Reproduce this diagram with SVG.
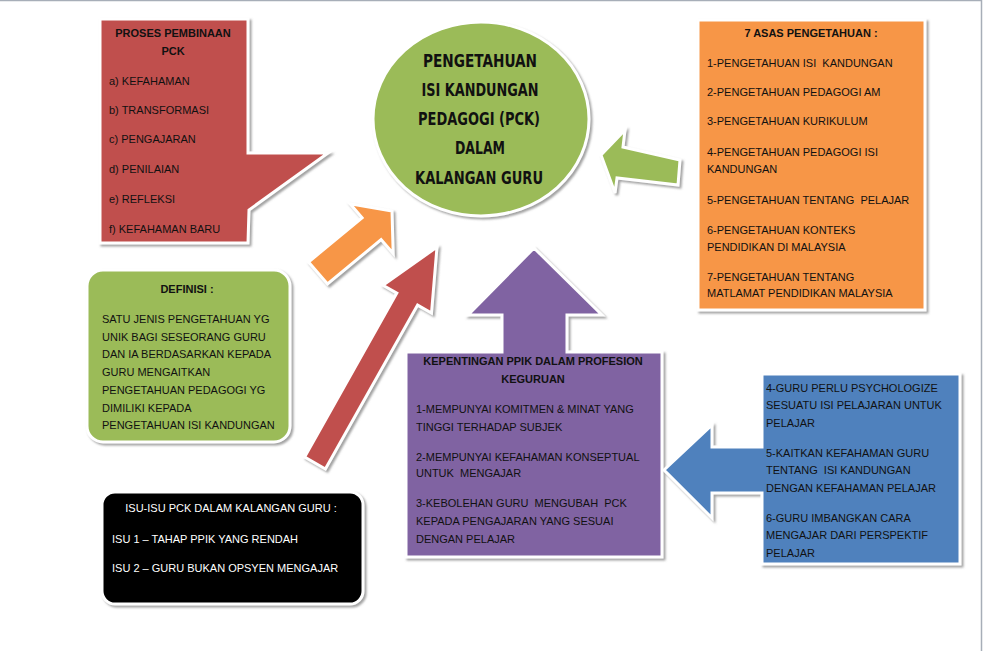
<svg xmlns="http://www.w3.org/2000/svg" width="983" height="651" viewBox="0 0 983 651">
<defs>
<filter id="sh" x="-10%" y="-10%" width="120%" height="120%">
<feDropShadow dx="2" dy="2" stdDeviation="1" flood-color="#8a8a8a" flood-opacity="0.8"/>
</filter>
<style>
.s{stroke:#fff;stroke-width:3;stroke-linejoin:miter;filter:url(#sh)}
.red{fill:#C0504D}.org{fill:#F79646}.grn{fill:#9BBB59}.pur{fill:#8064A2}.blu{fill:#4F81BD}.blk{fill:#000}
text{font-family:"Liberation Sans",Arial,sans-serif;font-size:11px;fill:#111;white-space:pre}
.b{font-weight:bold}
.c{text-anchor:middle}
.w{fill:#fff}
.t{font-family:"DejaVu Sans Condensed","DejaVu Sans",sans-serif;font-weight:bold;font-size:17px;fill:#111;text-anchor:middle}
</style>
</defs>
<rect width="983" height="651" fill="#fff"/>
<path d="M0 0.5H981.5V651" fill="none" stroke="#A7AEB8" stroke-width="1.5"/>

<g id="connectors">
<polygon class="s org" points="308.5,262 362.1,217.8 350,203.8 392,211 393.2,253.6 381.1,239.6 327.5,284"/>
<polygon class="s red" points="304.6,457 396.8,293.1 382.9,285.2 437,247 431.5,313 417.6,305.1 325.4,469"/>
<polygon class="s grn" points="601,155 625,130 623,147 680,160 678,185 617,178 615,193"/>
</g>

<g id="proses">
<polygon class="s red" points="100,19 248,19 248,153 328,153 249,210 248,243 100,243"/>
<text class="b c" x="173" y="37">PROSES PEMBINAAN</text>
<text class="b c" x="173" y="55">PCK</text>
<text x="109" y="85">a) KEFAHAMAN</text>
<text x="109" y="114">b) TRANSFORMASI</text>
<text x="109" y="143">c) PENGAJARAN</text>
<text x="109" y="173">d) PENILAIAN</text>
<text x="109" y="203">e) REFLEKSI</text>
<text x="109" y="233">f) KEFAHAMAN BARU</text>
</g>

<g id="pck">
<ellipse class="s grn" cx="481" cy="119" rx="108" ry="97"/>
<text class="t" x="480" y="67" textLength="114" lengthAdjust="spacingAndGlyphs">PENGETAHUAN</text>
<text class="t" x="480" y="96" textLength="117" lengthAdjust="spacingAndGlyphs">ISI KANDUNGAN</text>
<text class="t" x="479" y="125" textLength="122" lengthAdjust="spacingAndGlyphs">PEDAGOGI (PCK)</text>
<text class="t" x="480" y="154" textLength="50" lengthAdjust="spacingAndGlyphs">DALAM</text>
<text class="t" x="479" y="184" textLength="128" lengthAdjust="spacingAndGlyphs">KALANGAN GURU</text>
</g>

<g id="asas">
<rect class="s org" x="698" y="20" width="227" height="290"/>
<text class="b c" x="811" y="37">7 ASAS PENGETAHUAN :</text>
<text x="707" y="67">1-PENGETAHUAN ISI  KANDUNGAN</text>
<text x="707" y="96">2-PENGETAHUAN PEDAGOGI AM</text>
<text x="707" y="125">3-PENGETAHUAN KURIKULUM</text>
<text x="707" y="156">4-PENGETAHUAN PEDAGOGI ISI</text>
<text x="707" y="173">KANDUNGAN</text>
<text x="707" y="204">5-PENGETAHUAN TENTANG  PELAJAR</text>
<text x="707" y="234">6-PENGETAHUAN KONTEKS</text>
<text x="707" y="251">PENDIDIKAN DI MALAYSIA</text>
<text x="707" y="281">7-PENGETAHUAN TENTANG</text>
<text x="707" y="297">MATLAMAT PENDIDIKAN MALAYSIA</text>
</g>

<g id="definisi">
<rect class="s grn" x="87" y="270" width="203" height="172" rx="16"/>
<text class="b c" x="187" y="293">DEFINISI :</text>
<text x="102" y="323">SATU JENIS PENGETAHUAN YG</text>
<text x="102" y="341">UNIK BAGI SESEORANG GURU</text>
<text x="102" y="358">DAN IA BERDASARKAN KEPADA</text>
<text x="102" y="376">GURU MENGAITKAN</text>
<text x="102" y="394">PENGETAHUAN PEDAGOGI YG</text>
<text x="102" y="412">DIMILIKI KEPADA</text>
<text x="102" y="429">PENGETAHUAN ISI KANDUNGAN</text>
</g>

<g id="isu">
<rect class="s blk" x="102" y="492" width="261" height="112" rx="13"/>
<text class="w c" x="231" y="512">ISU-ISU PCK DALAM KALANGAN GURU :</text>
<text class="w" x="112" y="543">ISU 1 – TAHAP PPIK YANG RENDAH</text>
<text class="w" x="112" y="572">ISU 2 – GURU BUKAN OPSYEN MENGAJAR</text>
</g>

<g id="kepentingan">
<polygon class="s pur" points="534,248 602,315 567,315 567,352 662,352 662,557 406,557 406,352 502,352 502,315 468,315"/>
<text class="b c" x="533" y="365">KEPENTINGAN PPIK DALAM PROFESION</text>
<text class="b c" x="533" y="383">KEGURUAN</text>
<text x="416" y="413">1-MEMPUNYAI KOMITMEN &amp; MINAT YANG</text>
<text x="416" y="431">TINGGI TERHADAP SUBJEK</text>
<text x="416" y="461">2-MEMPUNYAI KEFAHAMAN KONSEPTUAL</text>
<text x="416" y="477">UNTUK  MENGAJAR</text>
<text x="416" y="507">3-KEBOLEHAN GURU  MENGUBAH  PCK</text>
<text x="416" y="525">KEPADA PENGAJARAN YANG SESUAI</text>
<text x="416" y="543">DENGAN PELAJAR</text>
</g>

<g id="guru">
<polygon class="s blu" points="664,470 712,425 712,447 762,447 762,374 960,374 960,564 762,564 762,493 712,493 712,518"/>
<text x="766" y="392">4-GURU PERLU PSYCHOLOGIZE</text>
<text x="766" y="409">SESUATU ISI PELAJARAN UNTUK</text>
<text x="766" y="427">PELAJAR</text>
<text x="766" y="457">5-KAITKAN KEFAHAMAN GURU</text>
<text x="766" y="474">TENTANG  ISI KANDUNGAN</text>
<text x="766" y="492">DENGAN KEFAHAMAN PELAJAR</text>
<text x="766" y="522">6-GURU IMBANGKAN CARA</text>
<text x="766" y="539">MENGAJAR DARI PERSPEKTIF</text>
<text x="766" y="557">PELAJAR</text>
</g>
</svg>
